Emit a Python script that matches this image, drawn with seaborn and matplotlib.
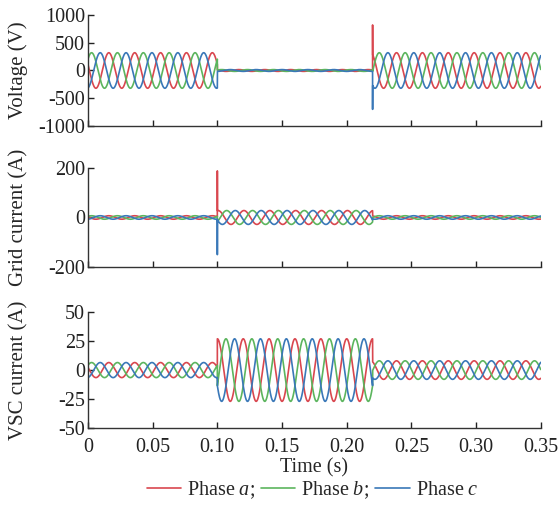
import matplotlib
matplotlib.use("Agg")
import matplotlib.pyplot as plt
import seaborn as sns
import numpy as np
import pandas as pd

# ---- values ----
freq = 50.0                                   # Hz
seg_edges = [0.0, 0.10, 0.22, 0.35]           # s
phases = ["a", "b", "c"]
phase_colors = ["#d9474f", "#5cb55e", "#3a78b8"]
phase_shift = [0.0, -120.0, 120.0]            # deg, a / b / c

# amplitude and phase angle of phase a per segment
volt_amp = [320, 16, 320]
volt_ang = [160, 150, 117]
grid_amp = [7, 28, 7]
grid_ang = [160, 80, 117]
vsc_amp = [6.5, 27, 8]
vsc_ang = [160, 90, 117]

# switching spikes: (time, value a, value b, value c)
volt_spike = (0.22, 820, 0, -700)
grid_spike = (0.10, 188, 0, -150)

ylabels = ["Voltage (V)", "Grid current (A)", "VSC current (A)"]
yticks = [[-1000, -500, 0, 500, 1000], [-200, 0, 200], [-50, -25, 0, 25, 50]]
xticks = [0, 0.05, 0.10, 0.15, 0.20, 0.25, 0.30, 0.35]
xticklabels = ["0", "0.05", "0.10", "0.15", "0.20", "0.25", "0.30", "0.35"]


def build(amps, angs, spike=None):
    rows = []
    for k, ph in enumerate(phases):
        ts, vs = [], []
        for s in range(3):
            t = np.arange(seg_edges[s], seg_edges[s + 1], 2e-5)
            v = amps[s] * np.sin(2 * np.pi * freq * t + np.deg2rad(angs[s] + phase_shift[k]))
            if spike is not None and np.isclose(seg_edges[s], spike[0]):
                ts.append([spike[0]])
                vs.append([spike[k + 1]])
            ts.append(t)
            vs.append(v)
        rows.append(pd.DataFrame({"t": np.concatenate(ts), "v": np.concatenate(vs), "phase": ph}))
    return pd.concat(rows, ignore_index=True)


panels = [build(volt_amp, volt_ang, volt_spike),
          build(grid_amp, grid_ang, grid_spike),
          build(vsc_amp, vsc_ang)]

sns.set_style("ticks")
plt.rcParams["font.family"] = ["Liberation Serif", "DejaVu Serif"]
plt.rcParams["mathtext.fontset"] = "custom"
plt.rcParams["mathtext.rm"] = "Liberation Serif"
plt.rcParams["mathtext.it"] = "Liberation Serif:italic"
plt.rcParams["axes.unicode_minus"] = False

fig = plt.figure(figsize=(5.59, 5.08), dpi=100)
boxes = [[0.1574, 0.752, 0.810, 0.2185],
         [0.1574, 0.4744, 0.810, 0.195],
         [0.1574, 0.1575, 0.810, 0.228]]
pal = dict(zip(phases, phase_colors))

for i, df in enumerate(panels):
    ax = fig.add_axes(boxes[i])
    sns.lineplot(data=df, x="t", y="v", hue="phase", palette=pal, estimator=None,
                 sort=False, legend=False, linewidth=1.2, ax=ax)
    ax.set_xlim(0, 0.35)
    ax.set_ylim(yticks[i][0], yticks[i][-1])
    ax.set_yticks(yticks[i])
    ax.set_xticks(xticks)
    if i == 2:
        ax.set_xticklabels(xticklabels)
        ax.set_xlabel("Time (s)", fontsize=14.5, labelpad=1)
    else:
        ax.set_xticklabels([])
        ax.set_xlabel("")
    ax.set_ylabel(ylabels[i], fontsize=15)
    ax.yaxis.set_label_coords(-0.132, 0.5)
    ax.tick_params(direction="in", length=4, width=1, labelsize=14.5, colors="#222222", pad=2)
    ax.tick_params(axis="x", pad=7)
    for sp in ["top", "right"]:
        ax.spines[sp].set_visible(False)
    for sp in ["left", "bottom"]:
        ax.spines[sp].set_color("#333333")
        ax.spines[sp].set_linewidth(1)

handles = [plt.Line2D([], [], color=c, lw=1.2) for c in phase_colors]
labels = ["Phase $a$;", "Phase $b$;", "Phase $c$"]
fig.legend(handles, labels, loc="center", bbox_to_anchor=(0.559, 0.035), ncol=3,
           frameon=False, fontsize=14.5, handlelength=1.7, handletextpad=0.3,
           columnspacing=0.3)

fig.savefig("out.png", dpi=100)
